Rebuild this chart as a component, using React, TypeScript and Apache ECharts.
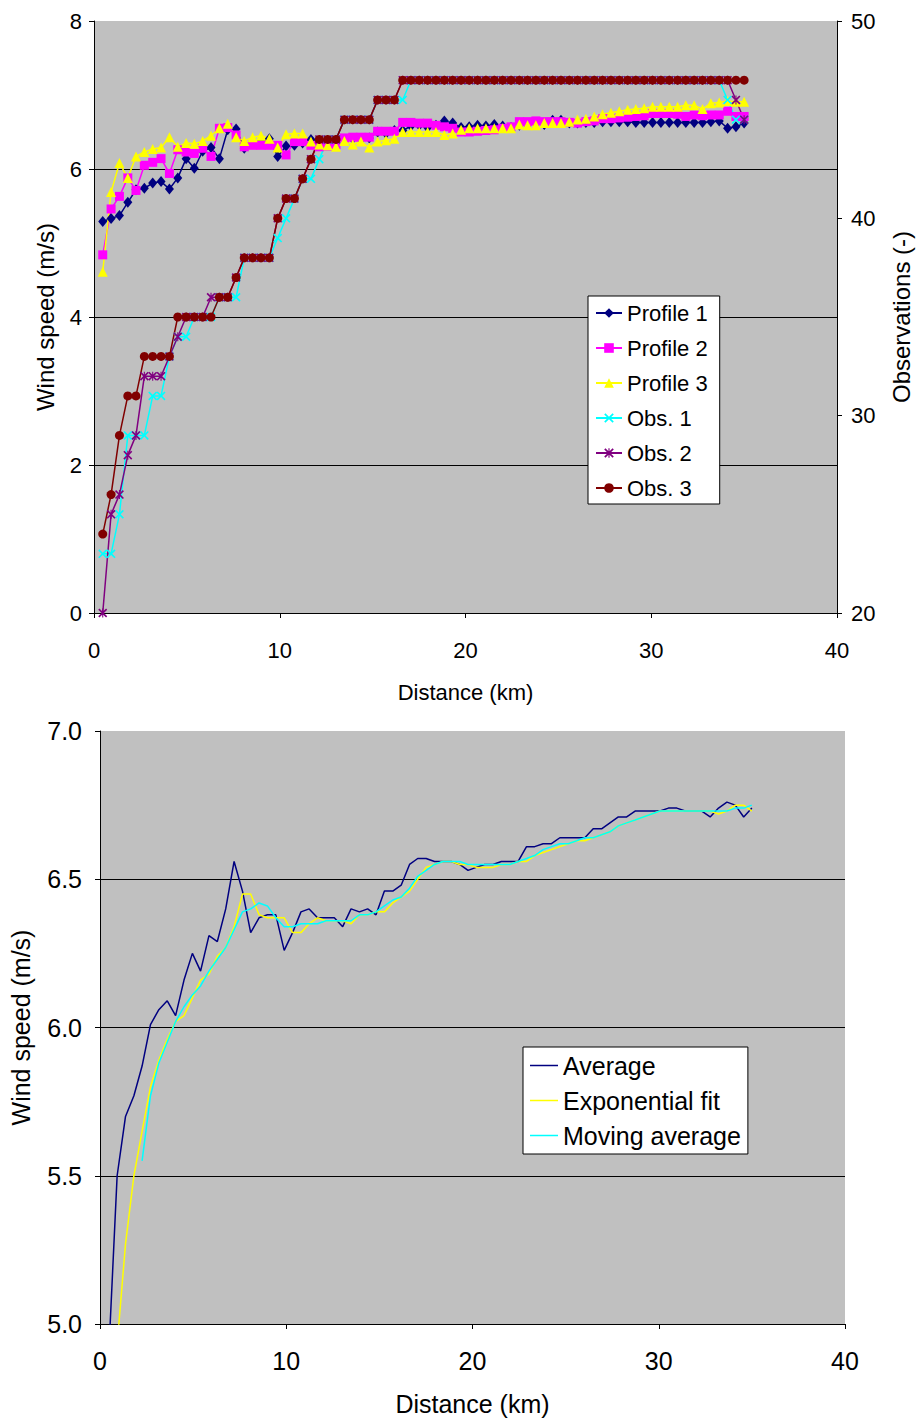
import React, { useEffect, useRef } from "react";
import * as echarts from "echarts";

// Distance of each sample along the track (km)
const distanceKm = [
  0.47, 0.92, 1.37, 1.82, 2.26, 2.71, 3.16, 3.61, 4.06, 4.51,
  4.96, 5.40, 5.85, 6.30, 6.75, 7.20, 7.65, 8.09, 8.54, 8.99,
  9.44, 9.89, 10.34, 10.79, 11.23, 11.68, 12.13, 12.58, 13.03, 13.48,
  13.93, 14.37, 14.82, 15.27, 15.72, 16.17, 16.62, 17.06, 17.51, 17.96,
  18.41, 18.86, 19.31, 19.76, 20.20, 20.65, 21.10, 21.55, 22.00, 22.45,
  22.90, 23.34, 23.79, 24.24, 24.69, 25.14, 25.59, 26.03, 26.48, 26.93,
  27.38, 27.83, 28.28, 28.73, 29.17, 29.62, 30.07, 30.52, 30.97, 31.42,
  31.86, 32.31, 32.76, 33.21, 33.66, 34.11, 34.56, 35.00,
];

// Top chart: wind speed profiles (m/s)
const profile1 = [
  5.29, 5.33, 5.37, 5.55, 5.72, 5.74, 5.81, 5.83, 5.73, 5.88,
  6.14, 6.01, 6.24, 6.29, 6.14, 6.53, 6.54, 6.28, 6.36, 6.37,
  6.41, 6.17, 6.31, 6.32, 6.35, 6.40, 6.38, 6.38, 6.39, 6.40,
  6.41, 6.40, 6.42, 6.50, 6.48, 6.52, 6.52, 6.58, 6.59, 6.56,
  6.59, 6.65, 6.62, 6.56, 6.57, 6.59, 6.58, 6.60, 6.58, 6.56,
  6.59, 6.60, 6.62, 6.60, 6.66, 6.66, 6.62, 6.62, 6.63, 6.63,
  6.64, 6.64, 6.64, 6.64, 6.63, 6.63, 6.63, 6.63, 6.63, 6.63,
  6.63, 6.63, 6.63, 6.64, 6.65, 6.55, 6.57, 6.62,
];
const profile2 = [
  4.84, 5.46, 5.63, 5.88, 5.71, 6.05, 6.09, 6.14, 5.94, 6.26,
  6.23, 6.21, 6.28, 6.17, 6.55, 6.56, 6.46, 6.30, 6.32, 6.32,
  6.32, 6.32, 6.19, 6.37, 6.37, 6.32, 6.30, 6.31, 6.33, 6.42,
  6.43, 6.43, 6.43, 6.51, 6.51, 6.51, 6.63, 6.63, 6.62, 6.62,
  6.59, 6.57, 6.55, 6.50, 6.50, 6.51, 6.52, 6.53, 6.55, 6.57,
  6.64, 6.64, 6.65, 6.64, 6.64, 6.64, 6.63, 6.62, 6.64, 6.65,
  6.68, 6.68, 6.69, 6.70, 6.71, 6.72, 6.75, 6.75, 6.75, 6.74,
  6.71, 6.73, 6.72, 6.73, 6.73, 6.78, 6.71, 6.71,
];
const profile3 = [
  4.61, 5.69, 6.08, 5.88, 6.17, 6.23, 6.27, 6.29, 6.43, 6.30,
  6.35, 6.34, 6.38, 6.45, 6.55, 6.61, 6.43, 6.38, 6.43, 6.45,
  6.41, 6.29, 6.47, 6.48, 6.48, 6.37, 6.33, 6.32, 6.30, 6.38,
  6.33, 6.37, 6.29, 6.37, 6.39, 6.41, 6.50, 6.50, 6.50, 6.50,
  6.50, 6.46, 6.48, 6.53, 6.55, 6.55, 6.55, 6.55, 6.55, 6.55,
  6.60, 6.59, 6.59, 6.62, 6.62, 6.62, 6.64, 6.67, 6.68, 6.71,
  6.74, 6.76, 6.78, 6.80, 6.81, 6.82, 6.84, 6.84, 6.84, 6.84,
  6.86, 6.86, 6.81, 6.89, 6.90, 6.92, 6.91, 6.91,
];

// Top chart: number of observations (-)
const obs1 = [
  23, 23, 25, 29, 29, 29, 31, 31, 33, 34,
  34, 35, 35, 35, 36, 36, 36, 38, 38, 38,
  38, 39, 40, 41, 42, 42, 43, 44, 44, 45,
  45, 45, 45, 46, 46, 46, 46, 47, 47, 47,
  47, 47, 47, 47, 47, 47, 47, 47, 47, 47,
  47, 47, 47, 47, 47, 47, 47, 47, 47, 47,
  47, 47, 47, 47, 47, 47, 47, 47, 47, 47,
  47, 47, 47, 47, 47, 46, 45, 45,
];
const obs2 = [
  20, 25, 26, 28, 29, 32, 32, 32, 33, 34,
  35, 35, 35, 36, 36, 36, 37, 38, 38, 38,
  38, 40, 41, 41, 42, 43, 44, 44, 44, 45,
  45, 45, 45, 46, 46, 46, 47, 47, 47, 47,
  47, 47, 47, 47, 47, 47, 47, 47, 47, 47,
  47, 47, 47, 47, 47, 47, 47, 47, 47, 47,
  47, 47, 47, 47, 47, 47, 47, 47, 47, 47,
  47, 47, 47, 47, 47, 47, 46, 45,
];
const obs3 = [
  24, 26, 29, 31, 31, 33, 33, 33, 33, 35,
  35, 35, 35, 35, 36, 36, 37, 38, 38, 38,
  38, 40, 41, 41, 42, 43, 44, 44, 44, 45,
  45, 45, 45, 46, 46, 46, 47, 47, 47, 47,
  47, 47, 47, 47, 47, 47, 47, 47, 47, 47,
  47, 47, 47, 47, 47, 47, 47, 47, 47, 47,
  47, 47, 47, 47, 47, 47, 47, 47, 47, 47,
  47, 47, 47, 47, 47, 47, 47, 47,
];

// Bottom chart (m/s)
const average = [
  4.90, 5.50, 5.70, 5.77, 5.87, 6.01, 6.06, 6.09, 6.04, 6.16,
  6.25, 6.19, 6.31, 6.29, 6.40, 6.56, 6.46, 6.32, 6.37, 6.38,
  6.38, 6.26, 6.32, 6.39, 6.40, 6.37, 6.37, 6.37, 6.34, 6.40,
  6.39, 6.40, 6.38, 6.46, 6.46, 6.48, 6.55, 6.57, 6.57, 6.56,
  6.56, 6.56, 6.55, 6.53, 6.54, 6.55, 6.55, 6.56, 6.56, 6.56,
  6.61, 6.61, 6.62, 6.62, 6.64, 6.64, 6.64, 6.64, 6.67, 6.67,
  6.69, 6.71, 6.71, 6.73, 6.73, 6.73, 6.73, 6.74, 6.74, 6.73,
  6.73, 6.73, 6.71, 6.74, 6.76, 6.75, 6.71, 6.74,
];
const exponentialFit = [
  4.60, 4.93, 5.27, 5.50, 5.65, 5.80, 5.89, 5.96, 6.02, 6.04,
  6.10, 6.16, 6.18, 6.24, 6.27, 6.34, 6.45, 6.45, 6.38, 6.37,
  6.37, 6.37, 6.32, 6.32, 6.35, 6.37, 6.36, 6.36, 6.36, 6.35,
  6.38, 6.38, 6.39, 6.39, 6.42, 6.44, 6.46, 6.50, 6.54, 6.55,
  6.56, 6.56, 6.55, 6.55, 6.54, 6.54, 6.54, 6.55, 6.55, 6.56,
  6.56, 6.58, 6.59, 6.60, 6.61, 6.62, 6.63, 6.63, 6.64, 6.65,
  6.66, 6.68, 6.69, 6.70, 6.71, 6.72, 6.73, 6.73, 6.73, 6.73,
  6.73, 6.73, 6.73, 6.72, 6.73, 6.75, 6.75, 6.73,
];
const movingAverage = [
  null, null, null, null, 5.55, 5.77, 5.88, 5.95, 6.02, 6.07,
  6.11, 6.14, 6.19, 6.23, 6.27, 6.33, 6.39, 6.40, 6.42, 6.41,
  6.37, 6.34, 6.34, 6.35, 6.35, 6.35, 6.36, 6.36, 6.36, 6.36,
  6.38, 6.38, 6.39, 6.41, 6.43, 6.44, 6.47, 6.51, 6.53, 6.55,
  6.56, 6.56, 6.56, 6.55, 6.55, 6.55, 6.55, 6.55, 6.55, 6.56,
  6.57, 6.58, 6.60, 6.61, 6.62, 6.62, 6.63, 6.64, 6.64, 6.65,
  6.66, 6.68, 6.69, 6.70, 6.71, 6.72, 6.73, 6.73, 6.73, 6.73,
  6.73, 6.73, 6.73, 6.73, 6.73, 6.74, 6.74, 6.75,
];

const topXTicks = [0, 10, 20, 30, 40];
const topSpeedTicks = [0, 2, 4, 6, 8];
const obsTicks = [20, 30, 40, 50];
const bottomSpeedTicks = [5.0, 5.5, 6.0, 6.5, 7.0];

const FONT = 'Arial, "Liberation Sans", sans-serif';
const X_PATH =
  "path://M0,1.3L1.3,0L5,3.7L8.7,0L10,1.3L6.3,5L10,8.7L8.7,10L5,6.3L1.3,10L0,8.7L3.7,5Z";
const STAR_PATH =
  "path://M0,1.3L1.3,0L5,3.7L8.7,0L10,1.3L6.3,5L10,8.7L8.7,10L5,6.3L1.3,10L0,8.7L3.7,5ZM4.4,0L5.6,0L5.6,10L4.4,10Z";

function pairs(xs: number[], ys: (number | null)[]) {
  const out: [number, number][] = [];
  for (let i = 0; i < xs.length; i++) {
    const y = ys[i];
    if (y !== null && y !== undefined) out.push([xs[i], y]);
  }
  return out;
}

export default function App() {
  const ref = useRef<HTMLDivElement>(null);

  useEffect(() => {
    if (!ref.current) return;
    const chart = echarts.init(ref.current, null, { renderer: "svg" });

    const black = "#000000";
    const axisCommon = (fs: number) => ({
      axisLine: { show: true, onZero: false, lineStyle: { color: black, width: 1 } },
      axisTick: { show: true, inside: false, length: 5, lineStyle: { color: black, width: 1 } },
      nameTextStyle: { fontSize: fs, color: black, fontFamily: FONT },
    });

    const lineSeries = (
      name: string,
      ys: number[],
      color: string,
      symbol: string,
      size: number | number[],
      yAxisIndex: number
    ) => ({
      name,
      type: "line",
      xAxisIndex: 0,
      yAxisIndex,
      data: pairs(distanceKm, ys),
      symbol,
      symbolSize: size,
      showSymbol: true,
      itemStyle: { color, borderWidth: 0 },
      lineStyle: { color, width: 1.5 },
      emphasis: { disabled: true },
    });

    const bottomLine = (name: string, ys: (number | null)[], color: string) => ({
      name,
      type: "line",
      xAxisIndex: 1,
      yAxisIndex: 2,
      data: pairs(distanceKm, ys),
      symbol: "none",
      itemStyle: { color },
      lineStyle: { color, width: 1.5 },
      emphasis: { disabled: true },
    });

    const option: any = {
      animation: false,
      backgroundColor: "#ffffff",
      grid: [
        {
          left: 94,
          top: 21,
          width: 743,
          height: 592,
          show: true,
          backgroundColor: "#c0c0c0",
          borderWidth: 0,
          containLabel: false,
          outerBoundsMode: "none",
        },
        {
          left: 100,
          top: 731,
          width: 745,
          height: 593,
          show: true,
          backgroundColor: "#c0c0c0",
          borderWidth: 0,
          containLabel: false,
          outerBoundsMode: "none",
        },
      ],
      legend: [
        {
          data: ["Profile 1", "Profile 2", "Profile 3", "Obs. 1", "Obs. 2", "Obs. 3"],
          orient: "vertical",
          left: 588,
          top: 296,
          padding: [6, 12, 5, 7],
          itemGap: 13,
          itemWidth: 26,
          itemHeight: 12,
          selectedMode: false,
          backgroundColor: "#ffffff",
          borderColor: black,
          borderWidth: 1,
          textStyle: { fontSize: 22, color: black, fontFamily: FONT },
        },
        {
          data: ["Average", "Exponential fit", "Moving average"],
          orient: "vertical",
          left: 523,
          top: 1047,
          padding: [6, 7, 6, 7],
          itemGap: 10,
          itemWidth: 28,
          itemHeight: 1.5,
          icon: "rect",
          selectedMode: false,
          backgroundColor: "#ffffff",
          borderColor: black,
          borderWidth: 1,
          textStyle: { fontSize: 25, color: black, fontFamily: FONT },
        },
      ],
      xAxis: [
        {
          type: "value",
          gridIndex: 0,
          min: topXTicks[0],
          max: topXTicks[topXTicks.length - 1],
          interval: 10,
          ...axisCommon(22),
          axisLabel: { fontSize: 22, color: black, fontFamily: FONT, margin: 26 },
          splitLine: { show: false },
          name: "Distance (km)",
          nameLocation: "middle",
          nameGap: 68,
        },
        {
          type: "value",
          gridIndex: 1,
          min: topXTicks[0],
          max: topXTicks[topXTicks.length - 1],
          interval: 10,
          ...axisCommon(25),
          axisLabel: { fontSize: 25, color: black, fontFamily: FONT, margin: 24 },
          splitLine: { show: false },
          name: "Distance (km)",
          nameLocation: "middle",
          nameGap: 67,
        },
      ],
      yAxis: [
        {
          type: "value",
          gridIndex: 0,
          position: "left",
          min: topSpeedTicks[0],
          max: topSpeedTicks[topSpeedTicks.length - 1],
          interval: 2,
          ...axisCommon(24),
          axisLabel: { fontSize: 22, color: black, fontFamily: FONT, margin: 12 },
          splitLine: {
            show: true,
            showMinLine: false,
            showMaxLine: false,
            lineStyle: { color: black, width: 1 },
          },
          name: "Wind speed (m/s)",
          nameLocation: "middle",
          nameRotate: 90,
          nameGap: 37,
        },
        {
          type: "value",
          gridIndex: 0,
          position: "right",
          min: obsTicks[0],
          max: obsTicks[obsTicks.length - 1],
          interval: 10,
          ...axisCommon(24),
          axisLabel: { fontSize: 22, color: black, fontFamily: FONT, margin: 14 },
          splitLine: { show: false },
          name: "Observations (-)",
          nameLocation: "middle",
          nameRotate: 90,
          nameGap: 52,
        },
        {
          type: "value",
          gridIndex: 1,
          position: "left",
          min: bottomSpeedTicks[0],
          max: bottomSpeedTicks[bottomSpeedTicks.length - 1],
          interval: 0.5,
          ...axisCommon(25),
          axisLabel: {
            fontSize: 25,
            color: black,
            fontFamily: FONT,
            margin: 18,
            formatter: (v: number) => v.toFixed(1),
          },
          splitLine: {
            show: true,
            showMinLine: false,
            showMaxLine: false,
            lineStyle: { color: black, width: 1 },
          },
          name: "Wind speed (m/s)",
          nameLocation: "middle",
          nameRotate: 90,
          nameGap: 67,
        },
      ],
      series: [
        lineSeries("Profile 1", profile1, "#000080", "diamond", [9, 11], 0),
        lineSeries("Profile 2", profile2, "#ff00ff", "rect", 9, 0),
        lineSeries("Profile 3", profile3, "#ffff00", "triangle", 10, 0),
        lineSeries("Obs. 1", obs1, "#00ffff", X_PATH, 9, 1),
        lineSeries("Obs. 2", obs2, "#800080", STAR_PATH, 9, 1),
        lineSeries("Obs. 3", obs3, "#800000", "circle", 9, 1),
        bottomLine("Average", average, "#000080"),
        bottomLine("Exponential fit", exponentialFit, "#ffff00"),
        bottomLine("Moving average", movingAverage, "#00ffff"),
      ],
    };

    chart.setOption(option);
    return () => {
      chart.dispose();
    };
  }, []);

  return (
    <div
      ref={ref}
      style={{ position: "absolute", left: 0, top: 0, width: 919, height: 1418 }}
    />
  );
}
